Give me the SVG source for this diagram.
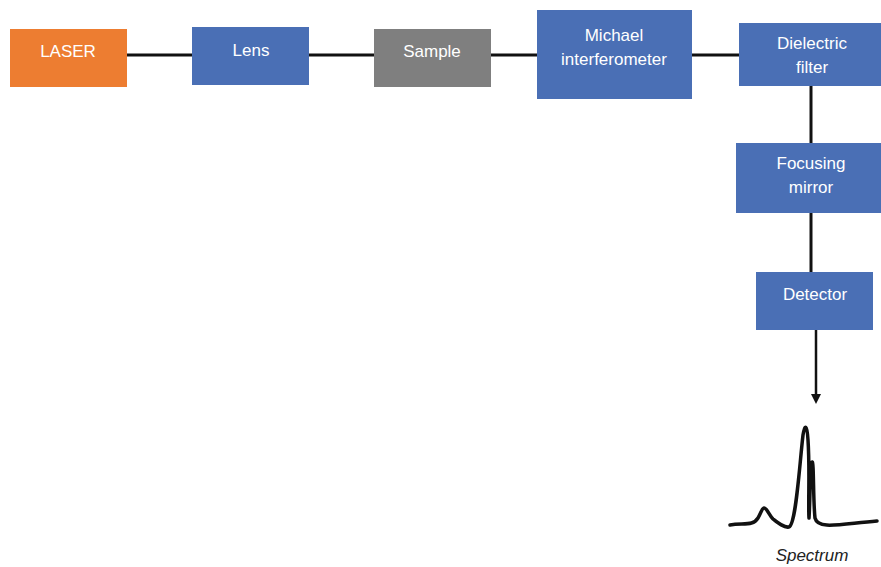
<svg xmlns="http://www.w3.org/2000/svg" width="881" height="567" viewBox="0 0 881 567">
<style>
.b{fill:#4A6FB5}
.t{font-family:"Liberation Sans",Arial,sans-serif;font-size:17px;fill:#fff;text-anchor:middle}
.c{stroke:#111;stroke-width:3;fill:none}
</style>
<rect width="881" height="567" fill="#fff"/>
<g id="connectors">
<line class="c" x1="127" y1="55" x2="192" y2="55"/>
<line class="c" x1="309" y1="55" x2="374" y2="55"/>
<line class="c" x1="491" y1="55" x2="537" y2="55"/>
<line class="c" x1="692" y1="55" x2="739" y2="55"/>
<line class="c" x1="811" y1="86" x2="811" y2="143"/>
<line class="c" x1="811" y1="213" x2="811" y2="272"/>
<line stroke="#111" stroke-width="2.5" x1="816" y1="330" x2="816" y2="396"/>
<path d="M811,394 L821,394 L816,404 Z" fill="#111"/>
</g>
<g id="laser"><rect x="10" y="29" width="117" height="58" fill="#ED7D31"/><text class="t" x="68" y="57">LASER</text></g>
<g id="lens"><rect class="b" x="192" y="27" width="117" height="58"/><text class="t" x="251" y="56">Lens</text></g>
<g id="sample"><rect x="374" y="29" width="117" height="58" fill="#7F7F7F"/><text class="t" x="432" y="57">Sample</text></g>
<g id="michael"><rect class="b" x="537" y="10" width="155" height="89"/><text class="t" x="614" y="41">Michael</text><text class="t" x="614" y="65">interferometer</text></g>
<g id="dielectric"><rect class="b" x="739" y="23" width="142" height="63"/><text class="t" x="812" y="49">Dielectric</text><text class="t" x="812" y="73">filter</text></g>
<g id="focusing"><rect class="b" x="736" y="143" width="145" height="70"/><text class="t" x="811" y="169">Focusing</text><text class="t" x="811" y="193">mirror</text></g>
<g id="detector"><rect class="b" x="756" y="272" width="117" height="58"/><text class="t" x="815" y="300">Detector</text></g>
<g id="spectrum">
<path d="M730,525 C745,523 753,526 758,518 C761,513 762,508 764,508 C767,508 769,515 773,519 C778,523 784,528 789,527 C796,524 799,470 803,435 C805,424 807,424 808,440 C810,470 808,505 809,518 C810,505 810,470 812,462 C814,460 813,500 815,518 C818,530 840,524 877,521" stroke="#111" stroke-width="3.5" fill="none" stroke-linecap="round" stroke-linejoin="round"/>
<text x="812" y="561" font-family="'Liberation Sans',Arial,sans-serif" font-size="17" font-style="italic" fill="#222" text-anchor="middle">Spectrum</text>
</g>
</svg>
